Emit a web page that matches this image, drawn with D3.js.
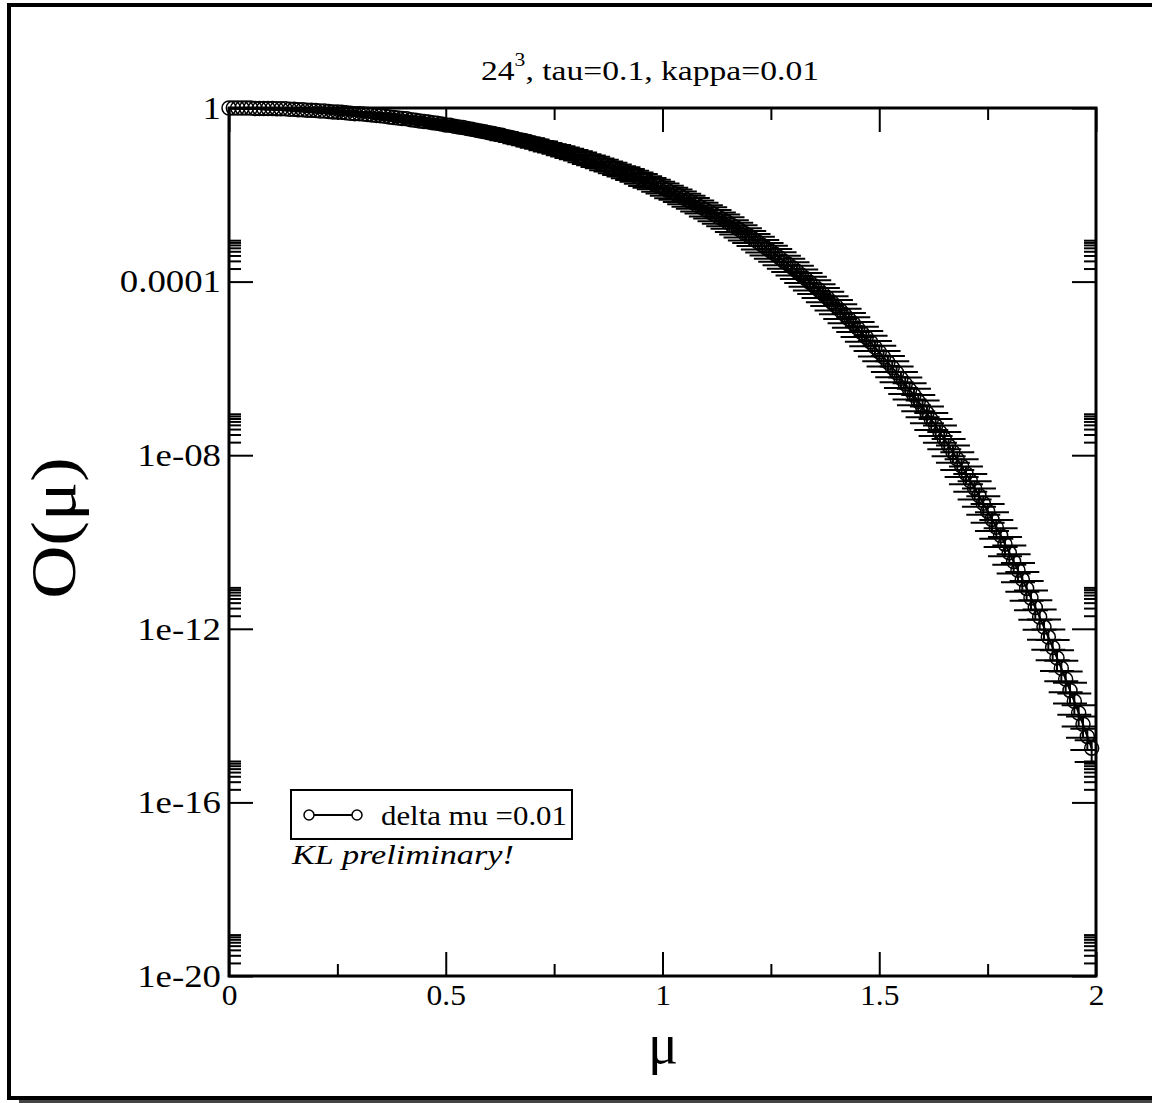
<!DOCTYPE html>
<html>
<head>
<meta charset="utf-8">
<script src="https://cdn.jsdelivr.net/npm/d3@7/dist/d3.min.js"></script>
<style>
  html, body { margin: 0; padding: 0; background: #fff; }
  svg { display: block; }
  text { font-family: "Liberation Serif", "Times New Roman", serif; fill: #000; }
</style>
</head>
<body>
<svg id="chart" width="1152" height="1103"></svg>
<script>
// mu grid (delta mu = 0.01)
const mu = [
  0.00,0.01,0.02,0.03,0.04,0.05,0.06,0.07,0.08,0.09,0.10,0.11,0.12,0.13,0.14,0.15,0.16,0.17,0.18,0.19,
  0.20,0.21,0.22,0.23,0.24,0.25,0.26,0.27,0.28,0.29,0.30,0.31,0.32,0.33,0.34,0.35,0.36,0.37,0.38,0.39,
  0.40,0.41,0.42,0.43,0.44,0.45,0.46,0.47,0.48,0.49,0.50,0.51,0.52,0.53,0.54,0.55,0.56,0.57,0.58,0.59,
  0.60,0.61,0.62,0.63,0.64,0.65,0.66,0.67,0.68,0.69,0.70,0.71,0.72,0.73,0.74,0.75,0.76,0.77,0.78,0.79,
  0.80,0.81,0.82,0.83,0.84,0.85,0.86,0.87,0.88,0.89,0.90,0.91,0.92,0.93,0.94,0.95,0.96,0.97,0.98,0.99,
  1.00,1.01,1.02,1.03,1.04,1.05,1.06,1.07,1.08,1.09,1.10,1.11,1.12,1.13,1.14,1.15,1.16,1.17,1.18,1.19,
  1.20,1.21,1.22,1.23,1.24,1.25,1.26,1.27,1.28,1.29,1.30,1.31,1.32,1.33,1.34,1.35,1.36,1.37,1.38,1.39,
  1.40,1.41,1.42,1.43,1.44,1.45,1.46,1.47,1.48,1.49,1.50,1.51,1.52,1.53,1.54,1.55,1.56,1.57,1.58,1.59,
  1.60,1.61,1.62,1.63,1.64,1.65,1.66,1.67,1.68,1.69,1.70,1.71,1.72,1.73,1.74,1.75,1.76,1.77,1.78,1.79,
  1.80,1.81,1.82,1.83,1.84,1.85,1.86,1.87,1.88,1.89,1.90,1.91,1.92,1.93,1.94,1.95,1.96,1.97,1.98,1.99
];

// log10 O(mu) at each mu
const log10O = [
  0.00,0.00,0.00,0.00,0.00,0.00,-0.01,-0.01,-0.01,-0.01,
  -0.01,-0.02,-0.02,-0.02,-0.03,-0.03,-0.04,-0.04,-0.05,-0.05,
  -0.06,-0.07,-0.07,-0.08,-0.09,-0.09,-0.10,-0.11,-0.12,-0.13,
  -0.13,-0.14,-0.15,-0.16,-0.17,-0.18,-0.19,-0.21,-0.22,-0.23,
  -0.24,-0.25,-0.27,-0.28,-0.30,-0.31,-0.32,-0.34,-0.35,-0.37,
  -0.39,-0.40,-0.42,-0.44,-0.45,-0.47,-0.49,-0.51,-0.53,-0.55,
  -0.57,-0.59,-0.61,-0.63,-0.66,-0.68,-0.70,-0.73,-0.75,-0.77,
  -0.80,-0.83,-0.85,-0.88,-0.91,-0.93,-0.96,-0.99,-1.02,-1.05,
  -1.08,-1.11,-1.15,-1.18,-1.21,-1.25,-1.28,-1.32,-1.35,-1.39,
  -1.43,-1.46,-1.50,-1.54,-1.58,-1.62,-1.67,-1.71,-1.75,-1.80,
  -1.84,-1.89,-1.94,-1.98,-2.03,-2.08,-2.13,-2.18,-2.24,-2.29,
  -2.35,-2.40,-2.46,-2.52,-2.57,-2.63,-2.70,-2.76,-2.82,-2.89,
  -2.95,-3.02,-3.09,-3.16,-3.23,-3.30,-3.37,-3.45,-3.53,-3.60,
  -3.68,-3.76,-3.85,-3.93,-4.02,-4.10,-4.19,-4.28,-4.37,-4.47,
  -4.56,-4.66,-4.76,-4.86,-4.96,-5.07,-5.18,-5.28,-5.39,-5.51,
  -5.62,-5.74,-5.86,-5.98,-6.10,-6.23,-6.36,-6.49,-6.62,-6.76,
  -6.89,-7.03,-7.18,-7.32,-7.47,-7.62,-7.78,-7.93,-8.09,-8.25,
  -8.42,-8.59,-8.76,-8.93,-9.11,-9.29,-9.48,-9.66,-9.85,-10.05,
  -10.25,-10.45,-10.65,-10.86,-11.07,-11.29,-11.51,-11.73,-11.96,-12.19,
  -12.43,-12.67,-12.91,-13.16,-13.42,-13.67,-13.94,-14.20,-14.48,-14.75
];

// relative error dO/O at each mu
const relErr = [
  0.00,0.00,0.01,0.01,0.01,0.01,0.02,0.02,0.02,0.02,0.03,0.03,0.03,0.03,0.04,0.04,0.04,0.04,0.05,0.05,
  0.05,0.05,0.06,0.06,0.06,0.07,0.07,0.07,0.07,0.08,0.08,0.08,0.08,0.09,0.09,0.09,0.09,0.10,0.10,0.10,
  0.10,0.11,0.11,0.11,0.11,0.12,0.12,0.12,0.12,0.13,0.13,0.13,0.14,0.14,0.14,0.14,0.15,0.15,0.15,0.15,
  0.16,0.16,0.16,0.16,0.17,0.17,0.17,0.17,0.18,0.18,0.18,0.18,0.19,0.19,0.19,0.20,0.20,0.20,0.20,0.21,
  0.21,0.21,0.21,0.22,0.22,0.22,0.22,0.23,0.23,0.23,0.23,0.24,0.24,0.24,0.24,0.25,0.25,0.25,0.25,0.26,
  0.26,0.26,0.27,0.27,0.27,0.27,0.28,0.28,0.28,0.28,0.29,0.29,0.29,0.29,0.30,0.30,0.30,0.30,0.31,0.31,
  0.31,0.31,0.32,0.32,0.32,0.33,0.33,0.33,0.33,0.34,0.34,0.34,0.34,0.35,0.35,0.35,0.35,0.36,0.36,0.36,
  0.36,0.37,0.37,0.37,0.37,0.38,0.38,0.38,0.38,0.39,0.39,0.39,0.40,0.40,0.40,0.40,0.41,0.41,0.41,0.41,
  0.42,0.42,0.42,0.42,0.43,0.43,0.43,0.43,0.44,0.44,0.44,0.44,0.45,0.45,0.45,0.46,0.46,0.46,0.46,0.47,
  0.47,0.47,0.47,0.48,0.48,0.48,0.48,0.49,0.49,0.49,0.49,0.50,0.50,0.50,0.50,0.51,0.51,0.51,0.51,0.52
];

const xTickValues = [0, 0.5, 1, 1.5, 2];
const xTickLabels = ["0", "0.5", "1", "1.5", "2"];
const xMinorValues = [0.25, 0.75, 1.25, 1.75];
const yTickValues = [1, 1e-4, 1e-8, 1e-12, 1e-16, 1e-20];
const yTickLabels = ["1", "0.0001", "1e-08", "1e-12", "1e-16", "1e-20"];
const yMinorMultipliers = [2, 3, 4, 5, 6, 7, 8, 9];

const titleMain = "24";
const titleSup = "3";
const titleRest = ", tau=0.1, kappa=0.01";
const legendLabel = "delta mu =0.01";
const noteText = "KL preliminary!";

const svg = d3.select("#chart");

// widen a text element along its baseline by a factor
function widen(sel, factor) {
  sel.each(function () {
    const w = this.getComputedTextLength();
    d3.select(this).attr("textLength", w * factor).attr("lengthAdjust", "spacingAndGlyphs");
  });
}

// page frame with drop shadow
svg.append("rect").attr("x", 19).attr("y", 15).attr("width", 1160).attr("height", 1088).attr("fill", "#444");
svg.append("rect").attr("x", 9).attr("y", 5).attr("width", 1160).attr("height", 1093)
  .attr("fill", "#fff").attr("stroke", "#000").attr("stroke-width", 4);

const plot = { left: 229, right: 1096, top: 108, bottom: 976 };
const x = d3.scaleLinear().domain([0, 2]).range([plot.left, plot.right]);
const y = d3.scaleLog().domain([1e-20, 1]).range([plot.bottom, plot.top]);

const yMinorValues = [];
yTickValues.forEach(v => yMinorMultipliers.forEach(k => { if (k * v < 1) yMinorValues.push(k * v); }));

svg.append("defs").append("clipPath").attr("id", "plotClip")
  .append("rect").attr("x", plot.left).attr("y", plot.top)
  .attr("width", plot.right - plot.left).attr("height", plot.bottom - plot.top);

function styleAxis(g, fontSize) {
  g.selectAll(".domain").remove();
  g.selectAll(".tick line").attr("stroke", "#000").attr("stroke-width", 2);
  g.selectAll(".tick text").attr("font-family", '"Liberation Serif", "Times New Roman", serif')
    .attr("font-size", fontSize || 28).attr("fill", "#000");
}

// bottom axis
const gBottom = svg.append("g").attr("transform", `translate(0,${plot.bottom})`)
  .call(d3.axisBottom(x).tickValues(xTickValues).tickSizeInner(-24).tickSizeOuter(0).tickPadding(8)
    .tickFormat((d, i) => xTickLabels[i]));
styleAxis(gBottom, 30);
widen(gBottom.selectAll(".tick text"), 1.05);
const gBottomMinor = svg.append("g").attr("transform", `translate(0,${plot.bottom})`)
  .call(d3.axisBottom(x).tickValues(xMinorValues).tickSizeInner(-12).tickSizeOuter(0).tickFormat(""));
styleAxis(gBottomMinor);

// top axis
const gTop = svg.append("g").attr("transform", `translate(0,${plot.top})`)
  .call(d3.axisTop(x).tickValues(xTickValues).tickSizeInner(-24).tickSizeOuter(0).tickFormat(""));
styleAxis(gTop);
const gTopMinor = svg.append("g").attr("transform", `translate(0,${plot.top})`)
  .call(d3.axisTop(x).tickValues(xMinorValues).tickSizeInner(-12).tickSizeOuter(0).tickFormat(""));
styleAxis(gTopMinor);

// left axis
const gLeft = svg.append("g").attr("transform", `translate(${plot.left},0)`)
  .call(d3.axisLeft(y).tickValues(yTickValues).tickSizeInner(-24).tickSizeOuter(0).tickPadding(8)
    .tickFormat((d, i) => yTickLabels[i]));
styleAxis(gLeft, 32);
widen(gLeft.selectAll(".tick text"), 1.15);
const gLeftMinor = svg.append("g").attr("transform", `translate(${plot.left},0)`)
  .call(d3.axisLeft(y).tickValues(yMinorValues).tickSizeInner(-12).tickSizeOuter(0).tickFormat(""));
styleAxis(gLeftMinor);

// right axis
const gRight = svg.append("g").attr("transform", `translate(${plot.right},0)`)
  .call(d3.axisRight(y).tickValues(yTickValues).tickSizeInner(-24).tickSizeOuter(0).tickFormat(""));
styleAxis(gRight);
const gRightMinor = svg.append("g").attr("transform", `translate(${plot.right},0)`)
  .call(d3.axisRight(y).tickValues(yMinorValues).tickSizeInner(-12).tickSizeOuter(0).tickFormat(""));
styleAxis(gRightMinor);

// plot frame
svg.append("rect").attr("x", plot.left).attr("y", plot.top)
  .attr("width", plot.right - plot.left).attr("height", plot.bottom - plot.top)
  .attr("fill", "none").attr("stroke", "#000").attr("stroke-width", 3);

// data
const data = mu.map((m, i) => {
  const o = Math.pow(10, log10O[i]);
  return { mu: m, o: o, lo: o * (1 - relErr[i]), hi: o * (1 + relErr[i]) };
});

const gErr = svg.append("g").attr("clip-path", "url(#plotClip)")
  .attr("stroke", "#000").attr("stroke-width", 2);
const capHalf = 17;
data.forEach(d => {
  const cx = x(d.mu);
  const yHi = y(d.hi);
  const yLo = y(Math.max(d.lo, 1e-30));
  gErr.append("line").attr("x1", cx).attr("x2", cx).attr("y1", yHi).attr("y2", yLo);
  gErr.append("line").attr("x1", cx - capHalf).attr("x2", cx + capHalf).attr("y1", yHi).attr("y2", yHi);
  gErr.append("line").attr("x1", cx - capHalf).attr("x2", cx + capHalf).attr("y1", yLo).attr("y2", yLo);
});

svg.append("path").datum(data)
  .attr("fill", "none").attr("stroke", "#000").attr("stroke-width", 2)
  .attr("d", d3.line().x(d => x(d.mu)).y(d => y(d.o)));

svg.append("g").selectAll("circle").data(data).join("circle")
  .attr("cx", d => x(d.mu)).attr("cy", d => y(d.o)).attr("r", 7)
  .attr("fill", "none").attr("stroke", "#000").attr("stroke-width", 1.5);

// title
const title = svg.append("text").attr("x", 650).attr("y", 80).attr("text-anchor", "middle")
  .attr("font-size", 28);
title.append("tspan").text(titleMain);
title.append("tspan").attr("font-size", 18).attr("dy", -14).text(titleSup);
title.append("tspan").attr("dy", 14).text(titleRest);
widen(title, 1.2);

// axis labels
svg.append("text").attr("x", 663).attr("y", 1063).attr("text-anchor", "middle")
  .attr("font-size", 56).text("μ");
const yLabel = svg.append("text").attr("transform", "translate(75,528) rotate(-90)").attr("text-anchor", "middle")
  .attr("font-size", 64).text("O(μ)");
widen(yLabel, 1.15);

// legend
const lg = svg.append("g");
lg.append("rect").attr("x", 291).attr("y", 790).attr("width", 281).attr("height", 49)
  .attr("fill", "#fff").attr("stroke", "#000").attr("stroke-width", 2);
lg.append("line").attr("x1", 309).attr("x2", 357).attr("y1", 815).attr("y2", 815)
  .attr("stroke", "#000").attr("stroke-width", 2);
[309, 357].forEach(cx => lg.append("circle").attr("cx", cx).attr("cy", 815).attr("r", 5)
  .attr("fill", "#fff").attr("stroke", "#000").attr("stroke-width", 1.5));
const lgText = lg.append("text").attr("x", 381).attr("y", 825).attr("font-size", 28).text(legendLabel);
widen(lgText, 1.1);

const note = svg.append("text").attr("x", 292).attr("y", 864).attr("font-size", 27)
  .attr("font-style", "italic").text(noteText);
widen(note, 1.27);
</script>
</body>
</html>
